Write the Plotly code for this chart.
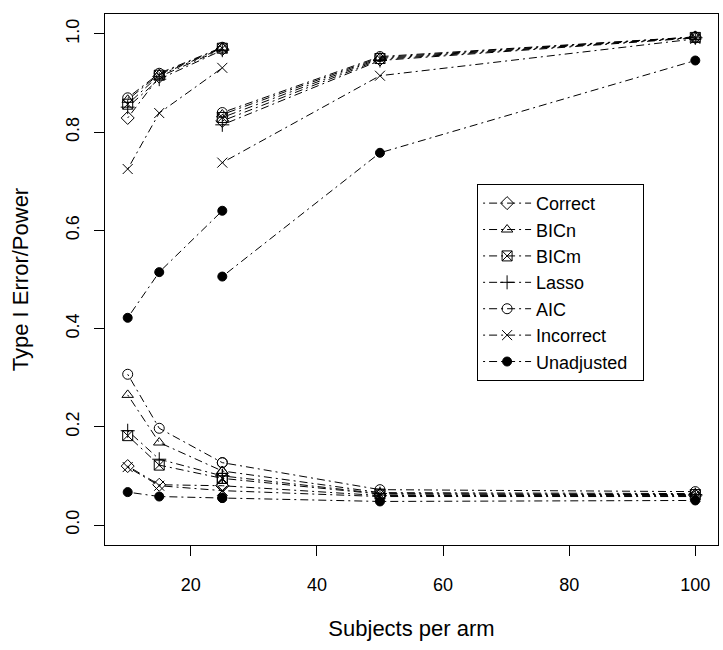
import plotly.graph_objects as go

# ---- data ----
methods = ["Correct", "BICn", "BICm", "Lasso", "AIC", "Incorrect", "Unadjusted"]
n_small = [10, 15, 25]
n_large = [25, 50, 100]

power_small = {
    "Correct":    [0.829, 0.913, 0.969],
    "BICn":       [0.866, 0.918, 0.972],
    "BICm":       [0.857, 0.916, 0.971],
    "Lasso":      [0.851, 0.908, 0.967],
    "AIC":        [0.870, 0.920, 0.973],
    "Incorrect":  [0.725, 0.839, 0.931],
    "Unadjusted": [0.422, 0.515, 0.640],
}
power_large = {
    "Correct":    [0.823, 0.948, 0.993],
    "BICn":       [0.836, 0.952, 0.994],
    "BICm":       [0.830, 0.950, 0.993],
    "Lasso":      [0.815, 0.946, 0.992],
    "AIC":        [0.840, 0.954, 0.994],
    "Incorrect":  [0.738, 0.915, 0.990],
    "Unadjusted": [0.506, 0.758, 0.946],
}
typeI_small = {
    "Correct":    [0.120, 0.082, 0.080],
    "BICn":       [0.265, 0.168, 0.110],
    "BICm":       [0.182, 0.122, 0.095],
    "Lasso":      [0.192, 0.134, 0.100],
    "AIC":        [0.307, 0.197, 0.127],
    "Incorrect":  [0.118, 0.080, 0.070],
    "Unadjusted": [0.067, 0.058, 0.055],
}
typeI_large = {
    "Correct":    [0.080, 0.060, 0.060],
    "BICn":       [0.110, 0.066, 0.064],
    "BICm":       [0.095, 0.063, 0.062],
    "Lasso":      [0.100, 0.064, 0.062],
    "AIC":        [0.127, 0.072, 0.068],
    "Incorrect":  [0.070, 0.058, 0.058],
    "Unadjusted": [0.055, 0.048, 0.050],
}

symbols = {
    "Correct": "diamond-open",
    "BICn": "triangle-up-open",
    "BICm": "square-x-open",
    "Lasso": "cross-thin-open",
    "AIC": "circle-open",
    "Incorrect": "x-thin-open",
    "Unadjusted": "circle",
}

FONT = "Liberation Sans, Arial, Helvetica, sans-serif"
fig = go.Figure()
for m in methods:
    xs = n_small + [None] + n_large + [None] + n_small + [None] + n_large
    ys = (power_small[m] + [None] + power_large[m] + [None]
          + typeI_small[m] + [None] + typeI_large[m])
    label = m + ("\u00a0\u00a0" if m == "Unadjusted" else "")
    fig.add_trace(go.Scatter(
        x=xs, y=ys, name=label, mode="lines+markers", connectgaps=False,
        line=dict(color="black", width=1, dash="2px,4px,8px,4px"),
        marker=dict(symbol=symbols[m], size=10 if m != "Unadjusted" else 9,
                    color="black", line=dict(color="black", width=1)),
    ))

fig.update_layout(
    width=723, height=650,
    margin=dict(l=105, r=5, t=14, b=105),
    paper_bgcolor="white", plot_bgcolor="white",
    font=dict(family=FONT, size=18, color="black"),
    showlegend=True,
    legend=dict(
        x=0.607, y=0.680, xanchor="left", yanchor="top",
        bordercolor="black", borderwidth=1, bgcolor="white",
        font=dict(family=FONT, size=18, color="black"),
        itemwidth=48, tracegroupgap=0,
    ),
)
fig.update_xaxes(
    range=[6.4, 103.6], tickvals=[20, 40, 60, 80, 100],
    showgrid=False, zeroline=False,
    showline=True, mirror=True, linecolor="black", linewidth=1,
    ticks="outside", ticklen=10, tickcolor="black", ticklabelstandoff=13,
    title=dict(text="Subjects per arm", standoff=27),
)
fig.update_yaxes(
    range=[-0.0407, 1.0407], tickvals=[0.0, 0.2, 0.4, 0.6, 0.8, 1.0],
    ticktext=["0.0", "0.2", "0.4", "0.6", "0.8", "1.0"],
    tickangle=-90,
    showgrid=False, zeroline=False,
    showline=True, mirror=True, linecolor="black", linewidth=1,
    ticks="outside", ticklen=10, tickcolor="black", ticklabelstandoff=8,
    title=dict(text="Type I Error/Power", standoff=28),
)

fig.write_html("out.html")
